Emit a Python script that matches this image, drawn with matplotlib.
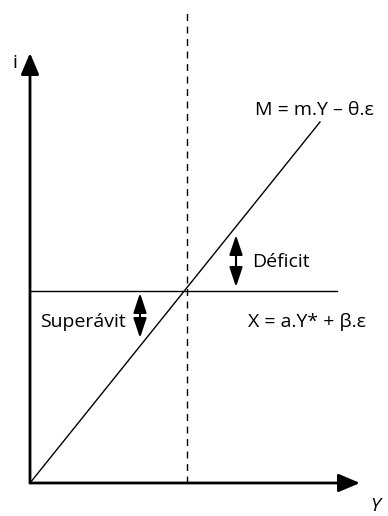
import matplotlib.pyplot as plt

# Axis extents (in drawing units, origin at the axes corner)
y_axis_top = 430
x_axis_end = 330

# Equilibrium point and curves
y_eq = 157
i_eq = 192
x_line_end = 307          # end of horizontal X line
m_line_end = (290, 361)   # end of M line
dash_top = 471

# Double arrows: (x, y_from, y_to)
deficit_arrow = (206, 248, 196)
superavit_arrow = (110, 190, 145)

plt.rcParams['font.family'] = ['Open Sans', 'DejaVu Sans']

fig = plt.figure(figsize=(3.88, 5.16), dpi=100)
ax = fig.add_axes([0, 0, 1, 1])
ax.set_xlim(-30, 358)
ax.set_ylim(-33, 483)
ax.axis('off')

# axes with arrows
ax.annotate('', xy=(0, y_axis_top), xytext=(0, 0),
            arrowprops=dict(arrowstyle='-|>,head_length=1.3,head_width=0.55',
                            lw=2, color='black', shrinkA=0, shrinkB=0))
ax.annotate('', xy=(x_axis_end, 0), xytext=(0, 0),
            arrowprops=dict(arrowstyle='-|>,head_length=1.3,head_width=0.55',
                            lw=2, color='black', shrinkA=0, shrinkB=0))

# curves
ax.plot([0, x_line_end], [i_eq, i_eq], color='black', lw=1)
ax.plot([0, m_line_end[0]], [0, m_line_end[1]], color='black', lw=1)
ax.plot([y_eq, y_eq], [0, dash_top], color='black', lw=1, ls=(0, (5, 4)))

# double arrows
for x, y0, y1 in [deficit_arrow, superavit_arrow]:
    ax.annotate('', xy=(x, y1), xytext=(x, y0),
                arrowprops=dict(arrowstyle='<|-|>,head_length=1.2,head_width=0.4',
                                lw=1.5, color='black', shrinkA=0, shrinkB=0))

# labels
fs = 14
ax.text(-18, 420, 'i', fontsize=fs, ha='left', va='center')
ax.text(345, -23, 'Y', fontsize=fs, style='italic', ha='center', va='center')
ax.text(284, 373, 'M = m.Y \u2013 \u03b8.\u03b5', fontsize=fs, ha='center', va='center')
ax.text(222, 221, 'Déficit', fontsize=fs, ha='left', va='center')
ax.text(218, 161, 'X = a.Y* + \u03b2.\u03b5', fontsize=fs, ha='left', va='center')
ax.text(10, 161, 'Superávit', fontsize=fs, ha='left', va='center')

fig.savefig('out.png', dpi=100)
